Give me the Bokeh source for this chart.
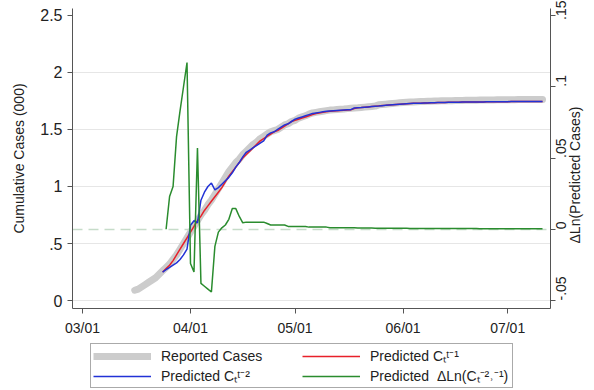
import math
import pandas as pd
from bokeh.plotting import figure
from bokeh.layouts import column
from bokeh.models import (Range1d, LinearAxis, FixedTicker, DatetimeTickFormatter,
                          Legend, LegendItem)
from bokeh.embed import file_html
from bokeh.resources import INLINE

# ---------------- data (thousands of cases; daily) ----------------
reported_start = "2020-03-16"
reported = [
    0.09, 0.10, 0.12, 0.14, 0.16, 0.18, 0.20, 0.23, 0.26, 0.29,
    0.32, 0.36, 0.40, 0.45, 0.50, 0.55, 0.60, 0.65, 0.70, 0.75,
    0.79, 0.84, 0.88, 0.93, 0.98, 1.03, 1.08, 1.13, 1.17, 1.21,
    1.24, 1.28, 1.31, 1.34, 1.37, 1.39, 1.42, 1.44, 1.46, 1.48,
    1.49, 1.50, 1.52, 1.54, 1.55, 1.57, 1.58, 1.60, 1.61, 1.62,
    1.635, 1.645, 1.65, 1.655, 1.66, 1.665, 1.67, 1.672, 1.675, 1.678,
    1.68, 1.683, 1.686, 1.688, 1.69, 1.693, 1.696, 1.699, 1.702, 1.705,
    1.716, 1.719, 1.722, 1.725, 1.728, 1.731, 1.734, 1.736, 1.738, 1.740,
    1.742, 1.744, 1.745, 1.746, 1.747, 1.748, 1.749, 1.750, 1.751, 1.752,
    1.753, 1.753, 1.754, 1.755, 1.755, 1.756, 1.756, 1.757, 1.757, 1.758,
    1.758, 1.758, 1.759, 1.759, 1.760, 1.760, 1.760, 1.761, 1.761, 1.761,
    1.762, 1.762, 1.762, 1.762, 1.763, 1.763, 1.763, 1.763,
]

pred_start = "2020-03-24"
pred_t1 = [
    0.25, 0.28, 0.31, 0.35, 0.40, 0.45, 0.50, 0.55, 0.60, 0.65,
    0.70, 0.74, 0.79, 0.83, 0.87, 0.91, 0.95, 0.99, 1.04, 1.09,
    1.13, 1.17, 1.21, 1.25, 1.28, 1.31, 1.34, 1.37, 1.40, 1.42,
    1.44, 1.46, 1.48, 1.49, 1.51, 1.53, 1.55, 1.57, 1.58, 1.59,
    1.60, 1.61, 1.62, 1.63, 1.64, 1.645, 1.65, 1.655, 1.66, 1.662,
    1.664, 1.666, 1.668, 1.670, 1.672, 1.684, 1.690, 1.692, 1.695, 1.698,
    1.701, 1.704, 1.707, 1.710, 1.712, 1.715, 1.717, 1.719, 1.721, 1.723,
    1.725, 1.727, 1.729, 1.730, 1.731, 1.732, 1.733, 1.734, 1.735, 1.736,
    1.737, 1.737, 1.738, 1.738, 1.739, 1.739, 1.740, 1.740, 1.741, 1.741,
    1.742, 1.742, 1.742, 1.743, 1.743, 1.743, 1.744, 1.744, 1.744, 1.744,
    1.745, 1.745, 1.745, 1.745, 1.745, 1.746, 1.746, 1.746, 1.746, 1.746,
]
pred_t2 = [
    0.25, 0.27, 0.29, 0.31, 0.33, 0.36, 0.40, 0.45, 0.66, 0.70,
    0.68, 0.88, 0.95, 1.00, 1.03, 0.97, 0.99, 1.02, 1.05, 1.08,
    1.12, 1.17, 1.21, 1.26, 1.30, 1.32, 1.34, 1.36, 1.38, 1.40,
    1.45, 1.47, 1.48, 1.50, 1.52, 1.54, 1.55, 1.57, 1.59, 1.60,
    1.61, 1.62, 1.63, 1.64, 1.645, 1.65, 1.655, 1.66, 1.662, 1.664,
    1.666, 1.668, 1.670, 1.672, 1.674, 1.688, 1.690, 1.692, 1.695, 1.698,
    1.701, 1.704, 1.706, 1.709, 1.712, 1.715, 1.717, 1.719, 1.721, 1.723,
    1.725, 1.727, 1.729, 1.730, 1.731, 1.732, 1.733, 1.734, 1.735, 1.736,
    1.737, 1.737, 1.738, 1.738, 1.739, 1.739, 1.740, 1.740, 1.741, 1.741,
    1.742, 1.742, 1.742, 1.743, 1.743, 1.743, 1.744, 1.744, 1.744, 1.744,
    1.745, 1.745, 1.745, 1.745, 1.745, 1.746, 1.746, 1.746, 1.746, 1.746,
]

dln_start = "2020-03-25"
dln = [
    0.0, 0.023, 0.030, 0.065, 0.083, 0.100, 0.117, -0.024, -0.030, 0.057,
    -0.038, -0.040, -0.042, -0.044, -0.012, -0.002, 0.001, 0.003, 0.007, 0.0145,
    0.0145, 0.009, 0.0045, 0.005, 0.005, 0.005, 0.005, 0.005, 0.005, 0.004,
    0.003, 0.003, 0.003, 0.003, 0.003, 0.002, 0.002, 0.002, 0.002, 0.002,
    0.002, 0.0015, 0.0015, 0.0015, 0.0015, 0.0015, 0.0015, 0.001, 0.001, 0.001,
    0.001, 0.001, 0.001, 0.001, 0.001, 0.0008, 0.0008, 0.0008, 0.0008, 0.0008,
    0.0007, 0.0007, 0.0007, 0.0007, 0.0007, 0.0007, 0.0007, 0.0007, 0.0007, 0.0007,
    0.0006, 0.0006, 0.0006, 0.0006, 0.0006, 0.0006, 0.0006, 0.0006, 0.0006, 0.0006,
    0.0005, 0.0005, 0.0005, 0.0005, 0.0005, 0.0005, 0.0005, 0.0005, 0.0005, 0.0005,
    0.0004, 0.0004, 0.0004, 0.0004, 0.0004, 0.0004, 0.0004, 0.0004, 0.0004, 0.0004,
    0.0003, 0.0003, 0.0003, 0.0003, 0.0003, 0.0003, 0.0003, 0.0003, 0.0003,
]

x_ticks = ["2020-03-01", "2020-04-01", "2020-05-01", "2020-06-01", "2020-07-01"]
left_ticks = [0, 0.5, 1, 1.5, 2, 2.5]
left_labels = ["0", ".5", "1", "1.5", "2", "2.5"]
right_ticks = [-0.05, 0, 0.05, 0.1, 0.15]
right_labels = ["-.05", "0", ".05", ".1", ".15"]

legend_labels = ["Reported Cases", "Predicted C\u209c\u1d57\u207b\u00b9",
                 "Predicted C\u209c\u1d57\u207b\u00b2",
                 "Predicted  \u0394Ln(C\u209c\u207b\u00b2\u02d2\u207b\u00b9)"]
y_title = "Cumulative Cases (000)"
y2_title = "\u0394Ln(Predicted Cases)"
y2_title_at = -0.01  # right-axis value where the (bottom-to-top) right title starts

# ---------------- styles ----------------
FONT = "Liberation Sans"
C_REP, W_REP = "#cccccc", 7
C_RED, C_BLUE, C_GREEN = "#e8202a", "#2232d6", "#2a8c2e"
BORDER_L, BORDER_R = 72, 41

# ---------------- main figure ----------------
rep_x = pd.date_range(reported_start, periods=len(reported), freq="D")
pred_x = pd.date_range(pred_start, periods=len(pred_t1), freq="D")
dln_x = pd.date_range(dln_start, periods=len(dln), freq="D")

p = figure(width=594, height=340, x_axis_type="datetime",
           output_backend="svg", toolbar_location=None,
           x_range=Range1d(pd.Timestamp("2020-02-27 03:30"), pd.Timestamp("2020-07-13 07:00")),
           y_range=Range1d(-0.07, 2.561),
           min_border_left=BORDER_L, min_border_right=BORDER_R,
           min_border_top=8, min_border_bottom=32)
p.outline_line_color = None
p.extra_y_ranges = {"right": Range1d(-0.0556, 0.1549)}

p.xgrid.visible = False
p.ygrid.ticker = FixedTicker(ticks=[0, 0.5, 1, 1.5, 2])
p.ygrid.grid_line_color = "#e6e6e6"
p.ygrid.grid_line_width = 1

# zero reference line on right axis
p.hspan(y=[0], y_range_name="right", line_color="#c6dcc9", line_width=1.5, line_dash="10 6")

p.line(rep_x, reported, line_color=C_REP, line_width=W_REP, line_cap="round")
p.line(pred_x, pred_t1, line_color=C_RED, line_width=1.5)
p.line(pred_x, pred_t2, line_color=C_BLUE, line_width=1.5)
p.line(dln_x, dln, line_color=C_GREEN, line_width=1.5, y_range_name="right")

# x axis
xa = p.xaxis[0]
xa.ticker = FixedTicker(ticks=[pd.Timestamp(t).value / 1e6 for t in x_ticks])
fmt = "%m/%d"
xa.formatter = DatetimeTickFormatter(days=fmt, months=fmt, years=fmt, hours=fmt,
                                     hourmin=fmt, minutes=fmt, minsec=fmt,
                                     seconds=fmt, milliseconds=fmt, microseconds=fmt)
xa.major_label_text_font_size = "14px"

# left axis
ya = p.yaxis[0]
ya.ticker = FixedTicker(ticks=left_ticks)
ya.major_label_overrides = dict(zip(left_ticks, left_labels))
ya.major_label_text_font_size = "16px"
ya.axis_label = y_title
ya.axis_label_text_font_size = "14px"
ya.axis_label_standoff = 10

# right axis
ra = LinearAxis(y_range_name="right", ticker=FixedTicker(ticks=right_ticks),
                major_label_overrides=dict(zip(right_ticks, right_labels)),
                major_label_orientation=math.pi / 2)
p.add_layout(ra, "right")
ra.major_label_text_font_size = "14px"
ra.major_label_text_line_height = 1.0

for ax in [xa, ya, ra]:
    ax.axis_line_color = "#555555"
    ax.major_tick_line_color = "#555555"
    ax.major_tick_out = 5
    ax.major_tick_in = 0
    ax.minor_tick_line_color = None
    ax.major_label_text_font = FONT
    ax.major_label_text_color = "#222222"
    ax.axis_label_text_font = FONT
    ax.axis_label_text_font_style = "normal"
    ax.axis_label_text_color = "#222222"
    ax.major_label_standoff = 5
xa.major_label_standoff = 6
ra.major_label_standoff = 6

# right-axis title, reading bottom-to-top like the reference
ta = LinearAxis(y_range_name="right", ticker=FixedTicker(ticks=[y2_title_at]),
                major_label_overrides={y2_title_at: y2_title},
                major_label_orientation=math.pi / 2,
                axis_line_color=None, major_tick_line_color=None,
                major_tick_out=0, major_tick_in=0, minor_tick_line_color=None,
                major_label_standoff=1, major_label_text_font=FONT,
                major_label_text_line_height=1.0,
                major_label_text_font_size="14px", major_label_text_color="#222222")
p.add_layout(ta, "right")

# ---------------- legend strip ----------------
lg = figure(width=594, height=50, output_backend="svg", toolbar_location=None,
            x_axis_location=None, y_axis_location=None,
            x_range=Range1d(0, 1), y_range=Range1d(0, 1),
            min_border_left=BORDER_L, min_border_right=BORDER_R,
            min_border_top=0, min_border_bottom=0)
lg.outline_line_color = None
lg.xgrid.visible = False
lg.ygrid.visible = False
nan = float("nan")
k_rep = lg.line([nan], [nan], line_color=C_REP, line_width=W_REP)
k_red = lg.line([nan], [nan], line_color=C_RED, line_width=1.5)
k_blue = lg.line([nan], [nan], line_color=C_BLUE, line_width=1.5)
k_green = lg.line([nan], [nan], line_color=C_GREEN, line_width=1.5)

legend = Legend(items=[LegendItem(label=legend_labels[0], renderers=[k_rep]),
                       LegendItem(label=legend_labels[1], renderers=[k_red]),
                       LegendItem(label=legend_labels[2], renderers=[k_blue]),
                       LegendItem(label=legend_labels[3], renderers=[k_green])],
                ncols=2, orientation="horizontal", location=(18, 2),
                border_line_color="#555555", border_line_width=1,
                background_fill_color="white", background_fill_alpha=1,
                label_text_font=FONT, label_text_font_size="14px", label_text_color="#222222",
                label_text_line_height=1.0,
                glyph_width=58, glyph_height=16, label_height=16, label_width=140,
                label_standoff=10, padding=2, spacing=1, margin=0)
lg.add_layout(legend)

open("out.html", "w").write(file_html(column(p, lg, spacing=0), INLINE))
